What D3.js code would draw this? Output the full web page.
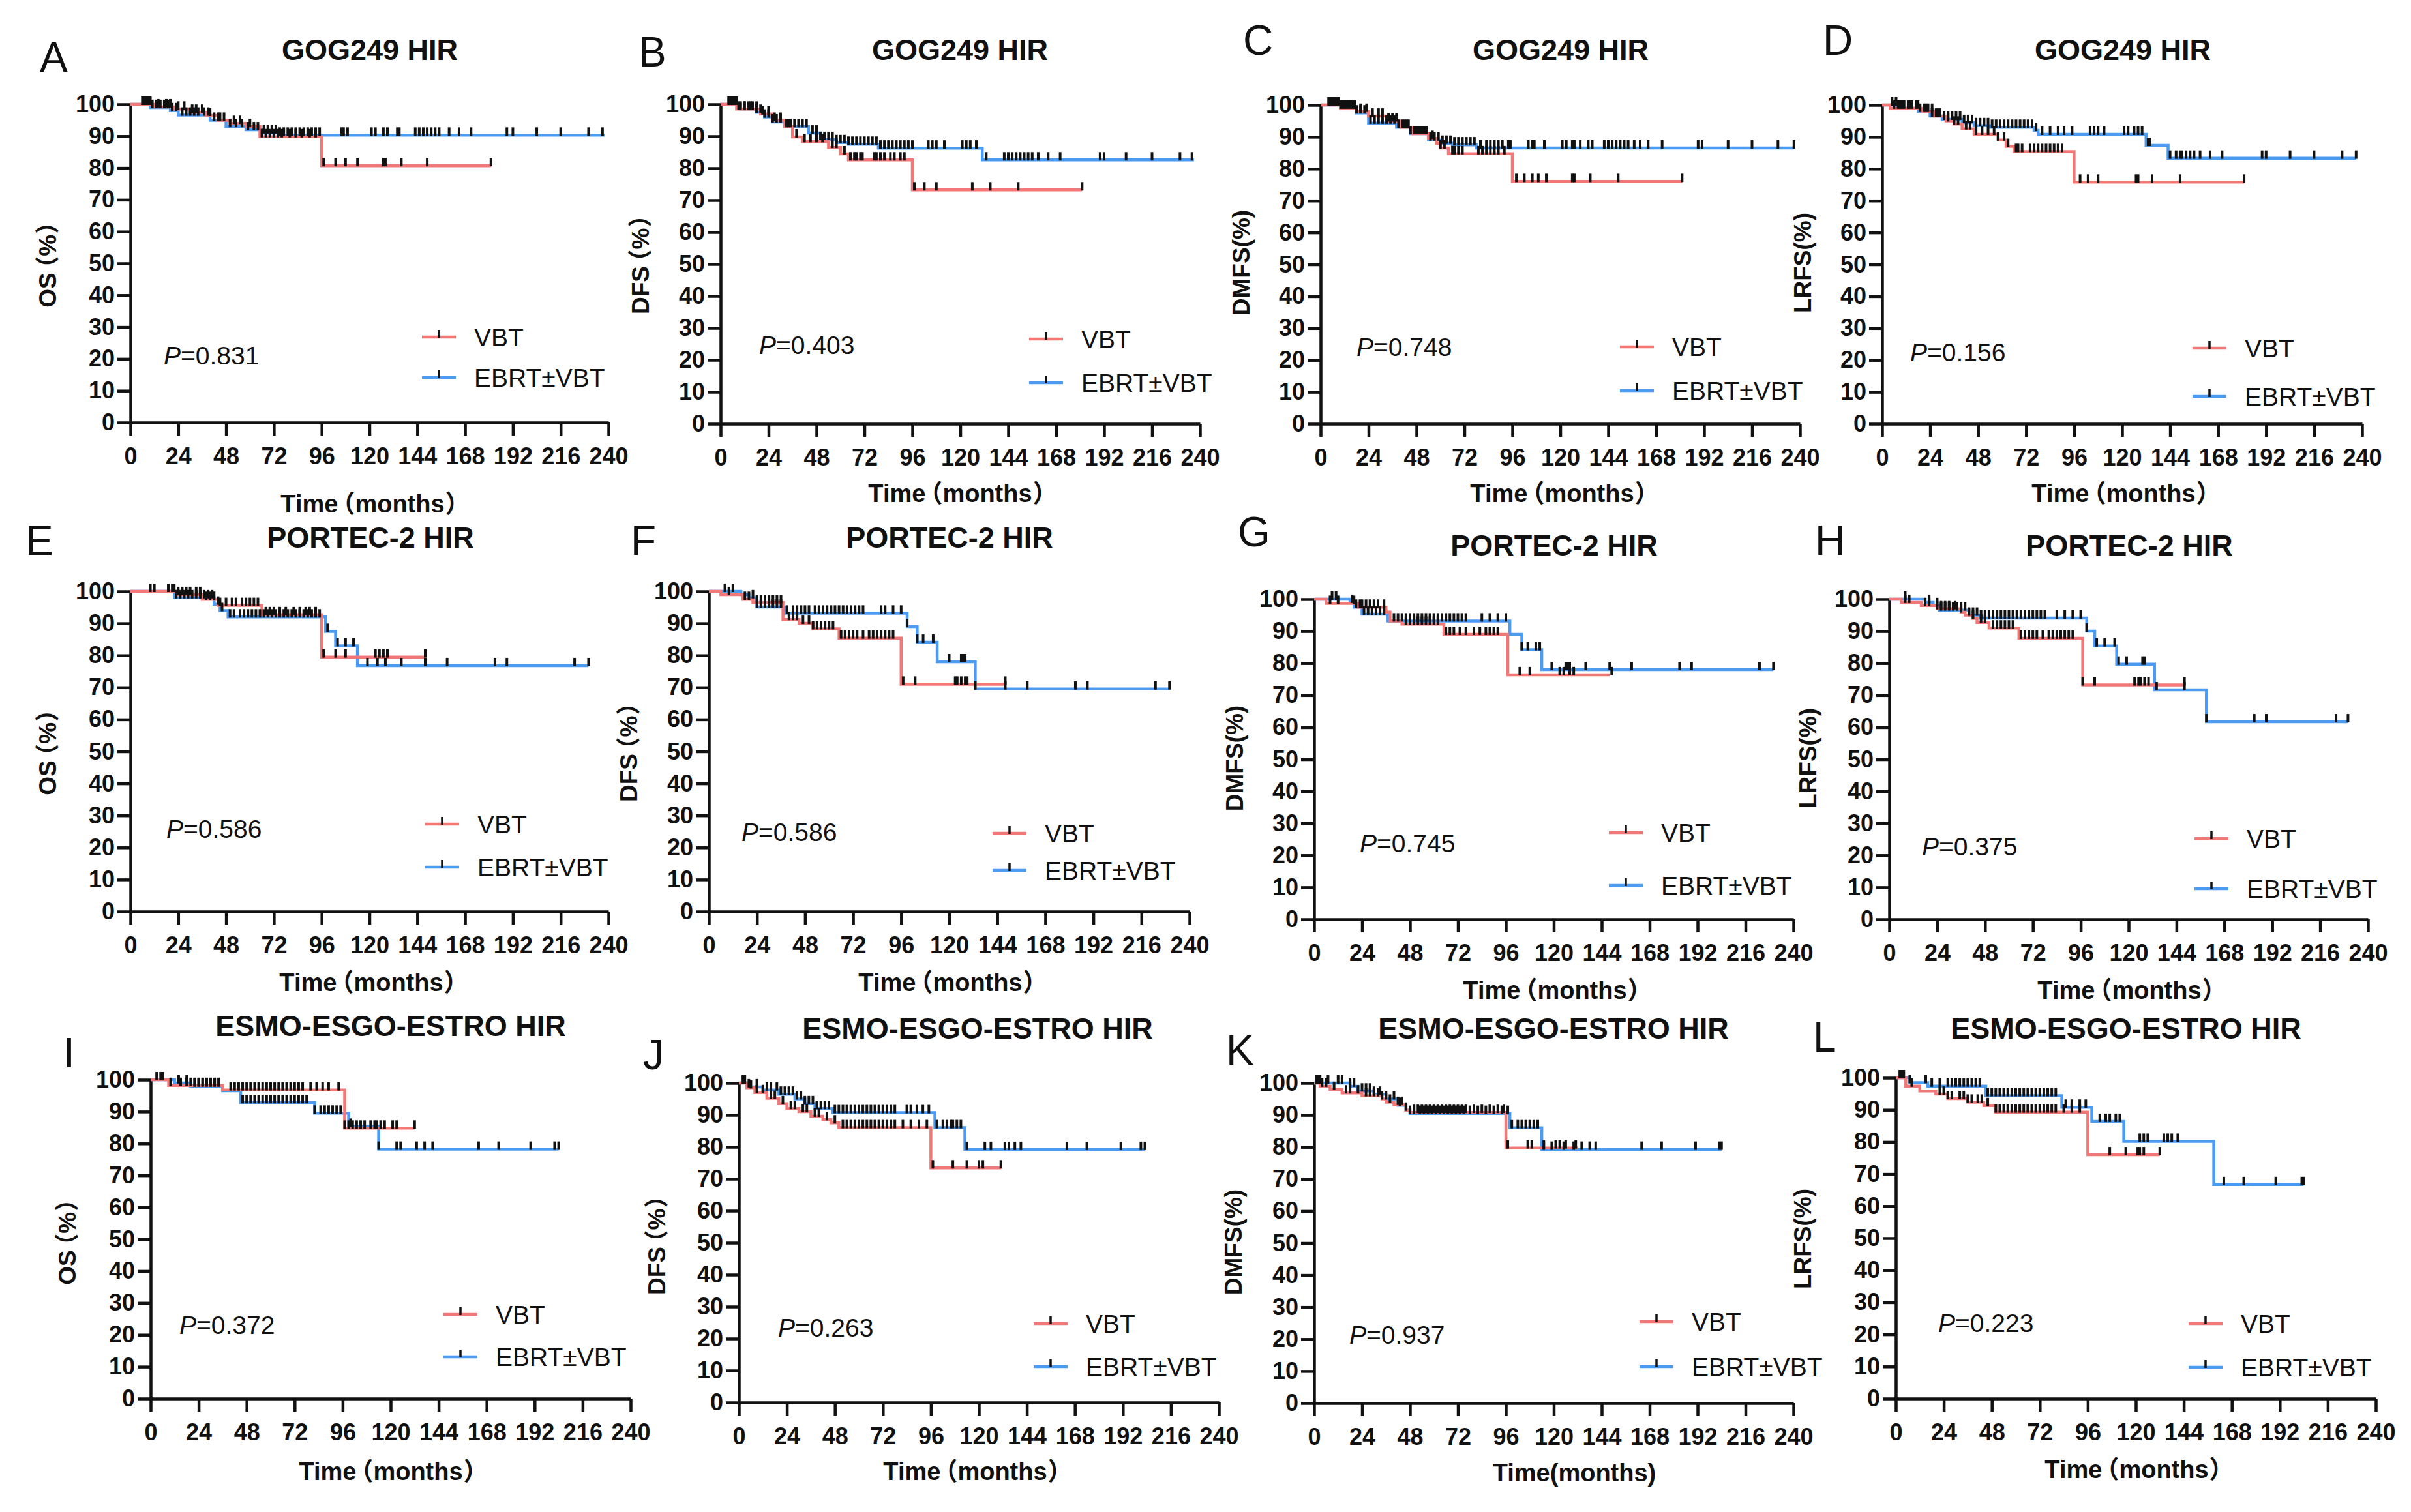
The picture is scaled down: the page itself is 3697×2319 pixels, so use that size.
<!DOCTYPE html>
<html>
<head>
<meta charset="utf-8">
<script src="https://cdn.jsdelivr.net/npm/d3@7"></script>
<style>
  body { margin: 0; background: #fff; }
  svg text { font-family: 'Liberation Sans', Arial, 'Noto Sans CJK SC', sans-serif; }
  svg text.cjk { font-feature-settings: 'halt' 1; }
</style>
</head>
<body>
<svg id="chart" width="3697" height="2319"></svg>
<script>
// ticks and labels
var xTicks = [0, 24, 48, 72, 96, 120, 144, 168, 192, 216, 240];
var yTicks = [0, 10, 20, 30, 40, 50, 60, 70, 80, 90, 100];
var letters = ['A','B','C','D','E','F','G','H','I','J','K','L'];
var titles = ['GOG249 HIR','GOG249 HIR','GOG249 HIR','GOG249 HIR',
              'PORTEC-2 HIR','PORTEC-2 HIR','PORTEC-2 HIR','PORTEC-2 HIR',
              'ESMO-ESGO-ESTRO HIR','ESMO-ESGO-ESTRO HIR','ESMO-ESGO-ESTRO HIR','ESMO-ESGO-ESTRO HIR'];
var yTitles = ['OS（%）','DFS（%）','DMFS(%)','LRFS(%)',
               'OS（%）','DFS（%）','DMFS(%)','LRFS(%)',
               'OS（%）','DFS（%）','DMFS(%)','LRFS(%)'];
var xTitles = ['Time（months）','Time（months）','Time（months）','Time（months）',
               'Time（months）','Time（months）','Time（months）','Time（months）',
               'Time（months）','Time（months）','Time(months)','Time（months）'];
var pValues = ['0.831','0.403','0.748','0.156','0.586','0.586','0.745','0.375','0.372','0.263','0.937','0.223'];
var groups = ['VBT','EBRT±VBT'];

// survival steps [month, %] and censored months
var vbtA = [[0,100],[12,99.2],[22,98.5],[30,97.5],[38,96.5],[44,95],[50,94],[58,93],[65,89.8],[96,80.7],[181,80.7]];
var vbtCensA = [8,10,14,18,20,24,27,31,33,36,40,45,52,55,60,66,68,70,72,74,76,80,83,86,90,93,97,103,108,114,127,128,136,149,181];
var ebrtA = [[0,100],[10,99],[20,98],[24,96.6],[40,95],[48,93],[58,92],[66,91],[75,90.3],[238,90.3]];
var ebrtCensA = [6,7,9,11,13,15,17,19,21,23,26,28,30,32,34,37,39,42,44,47,50,53,56,59,62,64,67,69,71,73,75,77,79,81,83,85,87,89,91,93,95,106,107,109,121,123,127,129,134,135,143,145,147,149,151,153,155,160,165,171,189,192,204,216,230,237];

var vbtB = [[0,100],[8,98.5],[20,97],[26,95],[32,93],[36,89.8],[41,88.3],[54,86.5],[60,84.5],[64,82.6],[96,73.2],[181,73.2]];
var vbtCensB = [4,6,9,12,15,18,21,24,27,30,34,38,42,45,48,51,56,58,62,65,67,68,70,71,77,78,80,82,85,87,90,92,97,102,108,126,135,149,181];
var ebrtB = [[0,100],[10,98.5],[18,97.5],[22,96],[26,94.5],[32,93],[44,91],[50,89],[58,88],[64,87.5],[79,86.3],[131,82.6],[237,82.6]];
var ebrtCensB = [5,7,8,10,12,14,16,18,20,22,24,26,28,30,33,35,37,39,41,43,46,48,50,52,54,56,58,60,62,64,66,68,70,72,74,76,78,80,82,84,86,88,90,92,94,96,104,106,108,112,121,123,125,128,133,142,144,146,148,150,152,154,156,159,164,170,190,192,203,216,230,236];

var vbtC = [[0,100],[10,99],[18,98],[24,96.5],[33,95],[40,93],[46,91],[54,89.5],[58,88],[60,86.5],[64,84.7],[96,76],[181,76]];
var vbtCensC = [6,9,12,15,17,20,23,26,29,31,34,36,38,42,44,48,50,52,56,60,62,66,67,69,71,79,81,83,85,87,89,92,98,102,106,109,113,126,127,135,149,181];
var ebrtC = [[0,100],[10,99],[18,97.5],[24,94.3],[38,93],[45,91],[54,89],[60,88],[66,87.5],[78,86.5],[237,86.5]];
var ebrtCensC = [4,5,7,8,10,11,13,14,16,18,20,22,25,27,29,31,33,35,37,39,41,43,45,47,49,51,53,55,57,59,61,63,65,67,69,71,73,75,77,80,83,85,87,89,91,94,95,104,106,107,112,121,123,126,127,130,134,136,142,144,146,148,150,152,154,157,160,164,171,189,191,204,216,229,237];

var vbtD = [[0,100],[4,99],[20,98],[26,96.5],[32,95],[36,94],[40,92.5],[46,90.8],[58,89],[62,87],[66,85.4],[96,75.8],[181,75.8]];
var vbtCensD = [6,8,10,14,18,22,25,28,33,36,38,42,44,47,50,53,56,58,61,63,67,68,70,74,76,78,80,82,84,86,88,90,99,103,108,127,128,135,149,181];
var ebrtD = [[0,100],[8,99],[18,98],[24,96.5],[30,95.5],[40,94.5],[46,93.5],[54,93],[76,92],[78,90.8],[132,87.3],[143,83.3],[237,83.3]];
var ebrtCensD = [5,7,9,11,13,15,17,19,21,23,25,27,29,31,33,35,37,39,41,43,45,47,49,51,53,55,57,59,61,63,65,67,69,71,73,75,77,80,84,88,91,95,104,106,108,111,121,123,126,128,130,133,134,144,147,149,150,152,154,156,159,164,170,190,192,204,216,230,237];

var vbtE = [[0,100],[24,99],[36,97.5],[44,95.6],[66,92.7],[96,79.5],[148,79.5]];
var vbtCensE = [22,24,26,28,30,33,35,38,40,42,45,48,51,53,56,58,60,62,64,68,70,72,75,78,82,85,88,90,93,97,103,108,123,125,127,129,148];
var ebrtE = [[0,100],[22,98],[42,96],[45,94],[49,92],[98,87.5],[103,83],[114,76.8],[230,76.8]];
var ebrtCensE = [10,12,19,21,23,25,27,29,31,33,35,37,39,41,44,46,50,52,55,57,59,61,63,65,67,69,71,73,75,77,79,81,83,85,87,89,91,93,95,99,104,108,112,119,124,128,136,148,159,183,189,223,230];

var vbtF = [[0,100],[6,99],[17,97.5],[22,96.5],[37,91.2],[45,90],[52,88.3],[65,85.4],[96,71],[148,71]];
var vbtCensF = [10,18,20,24,26,28,30,32,34,36,40,42,44,47,50,52,54,56,58,60,62,66,68,70,72,74,77,80,82,84,86,88,90,92,97,103,123,124,126,128,129,148];
var ebrtF = [[0,100],[16,99],[20,98],[24,95.1],[38,93.2],[99,89],[104,84.1],[114,78],[133,69.5],[230,69.5]];
var ebrtCensF = [8,12,22,24,26,28,30,32,34,36,39,42,44,46,48,50,53,55,57,59,61,63,65,67,69,71,73,75,77,86,88,92,96,99,104,107,112,120,126,127,128,133,148,159,183,189,223,230];

var vbtG = [[0,100],[6,98.7],[22,97.5],[36,96],[38,93.2],[44,92.2],[65,89],[97,76.4],[148,76.4]];
var vbtCensG = [8,12,20,24,26,28,30,32,35,46,48,50,52,54,56,58,60,62,66,68,70,73,76,80,83,86,88,90,92,103,108,123,125,128,130,149];
var ebrtG = [[0,100],[18,99],[20,97.5],[24,95.3],[37,93.2],[98,89],[104,84.2],[114,78],[230,78]];
var ebrtCensG = [9,11,19,21,23,25,27,29,31,33,35,40,42,44,46,48,50,52,54,56,58,60,62,64,66,68,70,72,74,76,84,88,92,96,104,107,111,113,119,126,127,128,136,148,159,183,189,223,230];

var vbtH = [[0,100],[6,99],[16,98],[24,97],[36,96],[38,95],[42,94],[44,92.7],[50,91],[65,87.8],[97,73.2],[148,73.2]];
var vbtCensH = [8,10,18,20,24,26,28,30,33,36,40,42,46,48,52,54,56,58,60,62,66,68,70,72,74,77,80,82,84,86,88,90,92,97,103,123,125,126,128,130,148];
var ebrtH = [[0,100],[18,99],[22,98],[25,96.6],[40,95],[46,94.1],[99,90],[103,85.4],[114,79.7],[133,71.7],[159,61.7],[230,61.7]];
var ebrtCensH = [8,20,24,26,28,30,32,34,36,38,42,44,46,48,50,52,54,56,58,60,62,64,66,68,70,72,74,76,78,84,88,92,96,99,104,108,113,115,119,127,128,134,148,159,183,189,224,230];

var vbtI = [[0,100],[9,98.2],[36,96.8],[97,84.8],[132,84.8]];
var vbtCensI = [3,5,10,15,18,20,22,24,26,28,30,32,34,40,42,44,46,48,50,52,54,56,58,60,62,64,66,68,70,72,74,76,80,83,86,89,94,97,99,101,103,105,107,110,112,113,115,117,121,123,132];
var ebrtI = [[0,100],[12,99],[20,98],[36,96.5],[45,92.8],[82,89.5],[99,85.4],[114,78.2],[204,78.2]];
var ebrtCensI = [6,14,18,22,24,26,28,30,32,34,46,48,50,52,54,56,58,60,62,64,66,68,70,72,74,76,78,82,85,87,89,91,93,95,100,114,123,125,133,137,141,164,174,190,202,204];

var vbtJ = [[0,100],[4,98.5],[8,97],[14,95.2],[20,93.5],[24,92],[30,91],[36,89.6],[42,88.5],[46,87.5],[50,86],[96,73.4],[131,73.4]];
var vbtCensJ = [3,6,9,12,16,18,22,26,28,32,34,38,40,44,48,52,54,56,58,60,62,64,66,68,70,72,74,76,78,82,86,90,94,97,107,114,120,122,131];
var ebrtJ = [[0,100],[5,98.8],[12,97.8],[20,96.5],[28,95],[33,93.5],[38,92],[47,90.7],[98,86],[113,79.2],[203,79.2]];
var ebrtCensJ = [2,5,9,14,16,19,21,23,25,27,29,31,33,35,37,39,41,43,45,48,50,52,54,56,58,60,62,64,66,68,70,72,74,76,78,84,86,89,92,95,99,102,104,106,107,109,111,114,123,126,133,135,138,141,164,174,191,201,203];

var vbtK = [[0,100],[3,99],[8,98],[14,96.9],[24,96],[34,95],[36,94],[40,93.3],[46,91.5],[48,90.8],[96,79.7],[132,79.7]];
var vbtCensK = [2,4,6,10,16,18,22,26,28,30,32,34,38,42,44,50,52,54,56,58,60,62,64,66,68,70,72,74,76,80,84,88,92,95,97,107,109,115,121,123,126,131];
var ebrtK = [[0,100],[18,99],[22,97.5],[30,96.5],[36,95],[42,93],[46,91.5],[48,90.5],[98,86],[114,79.3],[204,79.3]];
var ebrtCensK = [1,3,7,12,14,18,20,24,26,28,30,33,36,40,43,46,48,50,53,55,57,59,61,63,65,67,69,71,73,75,78,82,86,90,94,97,99,102,104,106,108,110,112,115,119,125,130,134,138,141,164,174,191,203,204];

var vbtL = [[0,100],[5,97.4],[12,95.9],[20,94.9],[26,93.5],[36,92.4],[44,91.3],[50,89.3],[96,76],[132,76]];
var vbtCensL = [3,8,22,24,26,28,32,34,36,38,41,43,46,50,52,54,56,58,60,62,64,66,68,70,72,74,76,78,80,84,88,92,107,115,121,122,124,132];
var ebrtL = [[0,100],[7,98.5],[16,97.4],[45,94.4],[83,90.8],[98,86.4],[114,80.2],[159,66.7],[204,66.7]];
var ebrtCensL = [2,4,7,15,18,22,26,28,30,32,34,36,38,40,42,46,48,50,52,54,56,58,60,62,64,66,68,70,72,74,76,78,80,85,88,92,95,102,105,107,110,112,122,124,126,134,136,138,141,164,174,190,203,204];

var curves = [
  [vbtA, vbtCensA, ebrtA, ebrtCensA], [vbtB, vbtCensB, ebrtB, ebrtCensB],
  [vbtC, vbtCensC, ebrtC, ebrtCensC], [vbtD, vbtCensD, ebrtD, ebrtCensD],
  [vbtE, vbtCensE, ebrtE, ebrtCensE], [vbtF, vbtCensF, ebrtF, ebrtCensF],
  [vbtG, vbtCensG, ebrtG, ebrtCensG], [vbtH, vbtCensH, ebrtH, ebrtCensH],
  [vbtI, vbtCensI, ebrtI, ebrtCensI], [vbtJ, vbtCensJ, ebrtJ, ebrtCensJ],
  [vbtK, vbtCensK, ebrtK, ebrtCensK], [vbtL, vbtCensL, ebrtL, ebrtCensL]
];

// layout (pixels)
var layout = [
  {x0:200, x1:933, yT:160, yB:648, tt:[567,92], lt:[61,110], yl:[73,406], xl:[566,786], p:[251,559], lx:647, ly:[517,579]},
  {x0:1105, x1:1840, yT:160, yB:650, tt:[1472,92], lt:[979,102], yl:[982,406], xl:[1467,770], p:[1164,543], lx:1578, ly:[520,587]},
  {x0:2025, x1:2760, yT:161, yB:650, tt:[2393,92], lt:[1906,84], yl:[1903,403], xl:[2390,770], p:[2080,546], lx:2484, ly:[532,599]},
  {x0:2886, x1:3622, yT:161, yB:650, tt:[3255,92], lt:[2795,84], yl:[2764,403], xl:[3251,770], p:[2929,554], lx:3362, ly:[534,608]},
  {x0:200, x1:933, yT:907, yB:1398, tt:[568,840], lt:[39,851], yl:[73,1154], xl:[564,1520], p:[255,1285], lx:652, ly:[1264,1330]},
  {x0:1087, x1:1824, yT:907, yB:1398, tt:[1456,840], lt:[967,851], yl:[964,1154], xl:[1452,1520], p:[1137,1290], lx:1522, ly:[1278,1335]},
  {x0:2015, x1:2750, yT:919, yB:1410, tt:[2383,852], lt:[1898,838], yl:[1893,1163], xl:[2379,1532], p:[2085,1307], lx:2467, ly:[1277,1358]},
  {x0:2897, x1:3631, yT:919, yB:1410, tt:[3265,852], lt:[2783,851], yl:[2772,1163], xl:[3260,1532], p:[2947,1312], lx:3365, ly:[1286,1363]},
  {x0:231, x1:967, yT:1656, yB:2145, tt:[599,1589], lt:[97,1637], yl:[103,1905], xl:[594,2270], p:[275,2046], lx:680, ly:[2016,2081]},
  {x0:1133, x1:1869, yT:1661, yB:2151, tt:[1499,1593], lt:[986,1640], yl:[1007,1910], xl:[1490,2270], p:[1193,2050], lx:1585, ly:[2030,2096]},
  {x0:2015, x1:2750, yT:1661, yB:2152, tt:[2382,1593], lt:[1880,1633], yl:[1891,1905], xl:[2414,2272], p:[2069,2061], lx:2514, ly:[2027,2096]},
  {x0:2907, x1:3643, yT:1653, yB:2145, tt:[3260,1593], lt:[2780,1613], yl:[2764,1900], xl:[3271,2267], p:[2972,2043], lx:3356, ly:[2030,2097]}
];

var colorVbt = '#F27878';
var colorEbrt = '#4C9BF2';
var colorBlack = '#111';

var svg = d3.select('#chart');
svg.append('rect').attr('width',3697).attr('height',2319).attr('fill','#fff');

var stepAt = d3.bisector(function(d){ return d[0]; }).right;

// put a little air round full-width brackets
function bracketText(sel, str) {
  str.split(/(（|）)/).filter(function(s){ return s.length; }).forEach(function(s){
    sel.append('tspan').text(s).attr('dx', s === '（' ? 7 : (s === '）' ? 1 : 0));
  });
}

layout.forEach(function(L, i) {

var x = d3.scaleLinear().domain([0,240]).range([L.x0, L.x1]);
var y = d3.scaleLinear().domain([0,100]).range([L.yB, L.yT]);
var g = svg.append('g');

// axes
var ax = g.append('g')
          .attr('transform','translate(0,' + L.yB + ')')
          .call(d3.axisBottom(x).tickValues(xTicks).tickSize(20).tickSizeOuter(0).tickPadding(18));
var ay = g.append('g')
          .attr('transform','translate(' + L.x0 + ',0)')
          .call(d3.axisLeft(y).tickValues(yTicks).tickSize(20).tickSizeOuter(0).tickPadding(4));
[ax, ay].forEach(function(a){
  a.selectAll('path,line').attr('stroke',colorBlack).attr('stroke-width',4.5);
  a.selectAll('text').attr('fill',colorBlack)
   .style('font-size','36px').style('font-weight','bold');
});

// curves
var line = d3.line().curve(d3.curveStepAfter)
             .x(function(d){ return x(d[0]); })
             .y(function(d){ return y(d[1]); });
var c = curves[i];
g.append('path').datum(c[2]).attr('d',line)
 .attr('fill','none').attr('stroke',colorEbrt).attr('stroke-width',4.5);
g.append('path').datum(c[0]).attr('d',line)
 .attr('fill','none').attr('stroke',colorVbt).attr('stroke-width',4.5);

[[c[0],c[1]],[c[2],c[3]]].forEach(function(pair){
  var steps = pair[0];
  g.selectAll(null).data(pair[1]).enter().append('line')
   .attr('x1',function(t){ return x(t); })
   .attr('x2',function(t){ return x(t); })
   .attr('y1',function(t){ return y(steps[Math.max(0,stepAt(steps,t)-1)][1]) - 12; })
   .attr('y2',function(t){ return y(steps[Math.max(0,stepAt(steps,t)-1)][1]) + 1; })
   .attr('stroke',colorBlack)
   .attr('stroke-width',4);
});

// texts
g.append('text').text(letters[i])
 .attr('x',L.lt[0]).attr('y',L.lt[1])
 .style('font-size','64px').attr('fill',colorBlack);

g.append('text').text(titles[i])
 .attr('x',L.tt[0]).attr('y',L.tt[1])
 .attr('text-anchor','middle')
 .style('font-size','45px').style('font-weight','bold').attr('fill',colorBlack);

var yt = g.append('text')
          .attr('class','cjk')
          .attr('transform','translate(' + L.yl[0] + ',' + L.yl[1] + ') rotate(-90)')
          .attr('text-anchor','middle').attr('dy','0.36em')
          .style('font-size','37px').style('font-weight','bold').attr('fill',colorBlack);
bracketText(yt, yTitles[i]);

var xt = g.append('text')
          .attr('class','cjk')
          .attr('x',L.xl[0]).attr('y',L.xl[1])
          .attr('text-anchor','middle')
          .style('font-size','38px').style('font-weight','bold').attr('fill',colorBlack);
bracketText(xt, xTitles[i]);

var pt = g.append('text').attr('x',L.p[0]).attr('y',L.p[1])
          .style('font-size','39px').attr('fill',colorBlack);
pt.append('tspan').text('P').style('font-style','italic');
pt.append('tspan').text('=' + pValues[i]);

// legend
[colorVbt, colorEbrt].forEach(function(col, k){
  var ly = L.ly[k];
  g.append('line').attr('x1',L.lx).attr('x2',L.lx + 52).attr('y1',ly).attr('y2',ly)
   .attr('stroke',col).attr('stroke-width',4.5);
  g.append('line').attr('x1',L.lx + 26).attr('x2',L.lx + 26).attr('y1',ly - 11).attr('y2',ly + 1)
   .attr('stroke',colorBlack).attr('stroke-width',3.5);
  g.append('text').text(groups[k])
   .attr('x',L.lx + 80).attr('y',ly + 14)
   .style('font-size','39px').attr('fill',colorBlack);
});

});
</script>
</body>
</html>
